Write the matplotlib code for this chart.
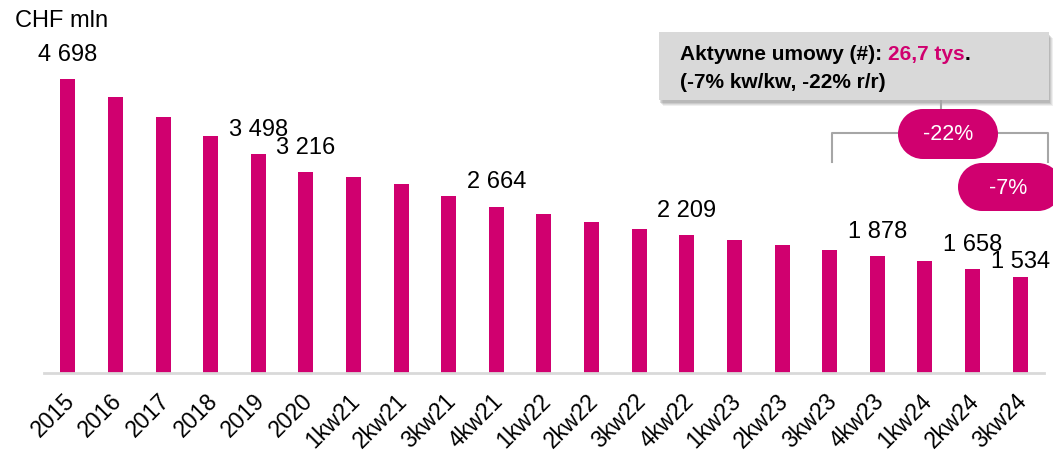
import matplotlib
matplotlib.use('Agg')
import matplotlib.pyplot as plt
from matplotlib.patches import Rectangle, Ellipse
from matplotlib.transforms import ScaledTranslation

# data (CHF mln)
periods = ['2015', '2016', '2017', '2018', '2019', '2020',
           '1kw21', '2kw21', '3kw21', '4kw21',
           '1kw22', '2kw22', '3kw22', '4kw22',
           '1kw23', '2kw23', '3kw23', '4kw23',
           '1kw24', '2kw24', '3kw24']
values = [4698, 4411, 4096, 3787, 3498, 3216,
          3136, 3019, 2832, 2664,
          2539, 2416, 2304, 2209,
          2128, 2043, 1968, 1878,
          1787, 1658, 1534]
labelled = ['2015', '2019', '2020', '4kw21', '4kw22', '4kw23', '2kw24', '3kw24']

PINK = '#D0006F'
GREY = '#a6a6a6'
W, H = 1053, 451

plt.rcParams['font.family'] = ['Liberation Sans', 'DejaVu Sans']

fig = plt.figure(figsize=(W / 100, H / 100), dpi=100)
ax = fig.add_axes([44 / W, 78 / H, 1000 / W, 353 / H])

x = list(range(len(periods)))
ax.bar(x, values, width=0.315, color=PINK, zorder=2)
ax.set_xlim(-0.5, len(periods) - 0.5)
ax.set_ylim(0, 353 / 0.0625)

for i, (p, v) in enumerate(zip(periods, values)):
    if p in labelled:
        off = 15 if p == '3kw24' else 24
        ax.annotate(f'{v:,}'.replace(',', ' '), (i, v), xytext=(0, off),
                    textcoords='offset pixels', ha='center', va='center',
                    fontsize=17, color='black', annotation_clip=False)

for s in ['top', 'right', 'left']:
    ax.spines[s].set_visible(False)
ax.spines['bottom'].set_color('#d9d9d9')
ax.spines['bottom'].set_linewidth(2)
ax.set_yticks([])
ax.set_xticks(x)
ax.set_xticklabels(periods, rotation=45, ha='right', va='top',
                   rotation_mode='anchor', fontsize=16.5)
ax.tick_params(axis='x', length=0, pad=12)
for lbl in ax.get_xticklabels():
    lbl.set_transform(lbl.get_transform() + ScaledTranslation(-0.05, 0, fig.dpi_scale_trans))

# overlay in pixel coordinates for the callout
ov = fig.add_axes([0, 0, 1, 1])
ov.set_xlim(0, W)
ov.set_ylim(H, 0)
ov.axis('off')
ov.patch.set_alpha(0)

ov.text(15, 21, 'CHF mln', fontsize=17, va='center', ha='left')

# grey box with soft shadow
for k, a in [(6, 0.12), (5, 0.15), (4, 0.2), (3, 0.25)]:
    ov.add_patch(Rectangle((659 + k - 2, 32 + k), 390, 68, color='#808080', alpha=a, lw=0, zorder=1))
ov.add_patch(Rectangle((659, 32), 390, 68, color='#d9d9d9', lw=0, zorder=2))
fs = 15
t1 = ov.text(680, 55, 'Aktywne umowy (#): ', fontsize=fs, fontweight='bold',
             va='center', ha='left', zorder=3)
fig.canvas.draw()
r = fig.canvas.get_renderer()
inv = ov.transData.inverted()
bb = t1.get_window_extent(r)
x2 = inv.transform((bb.x1, 0))[0]
t2 = ov.text(x2, 55, '26,7 tys', fontsize=fs, fontweight='bold', color=PINK,
             va='center', ha='left', zorder=3)
bb2 = t2.get_window_extent(r)
x3 = inv.transform((bb2.x1, 0))[0]
ov.text(x3, 55, '.', fontsize=fs, fontweight='bold', va='center', ha='left', zorder=3)
ov.text(680, 82, '(-7% kw/kw, -22% r/r)', fontsize=fs, fontweight='bold',
        va='center', ha='left', zorder=3)

# bracket and connector
ov.plot([941, 941], [100, 110], color=GREY, lw=1.5, zorder=1)
ov.plot([832, 832, 1048, 1048], [162, 133, 133, 162], color=GREY, lw=1.5, zorder=1)


def pill(x0, y0, w, h):
    r_ = h / 2
    ov.add_patch(Rectangle((x0 + r_, y0), w - h, h, color=PINK, lw=0, zorder=3))
    ov.add_patch(Ellipse((x0 + r_, y0 + r_), h, h, color=PINK, lw=0, zorder=3))
    ov.add_patch(Ellipse((x0 + w - r_, y0 + r_), h, h, color=PINK, lw=0, zorder=3))


pill(898, 109, 100, 50)
ov.text(948, 135, '-22%', color='white', fontsize=15.5, ha='center', va='center', zorder=4)
pill(958, 163, 104, 48)
ov.text(1008, 188, '-7%', color='white', fontsize=15.5, ha='center', va='center', zorder=4)

fig.savefig('out.png', dpi=100)
